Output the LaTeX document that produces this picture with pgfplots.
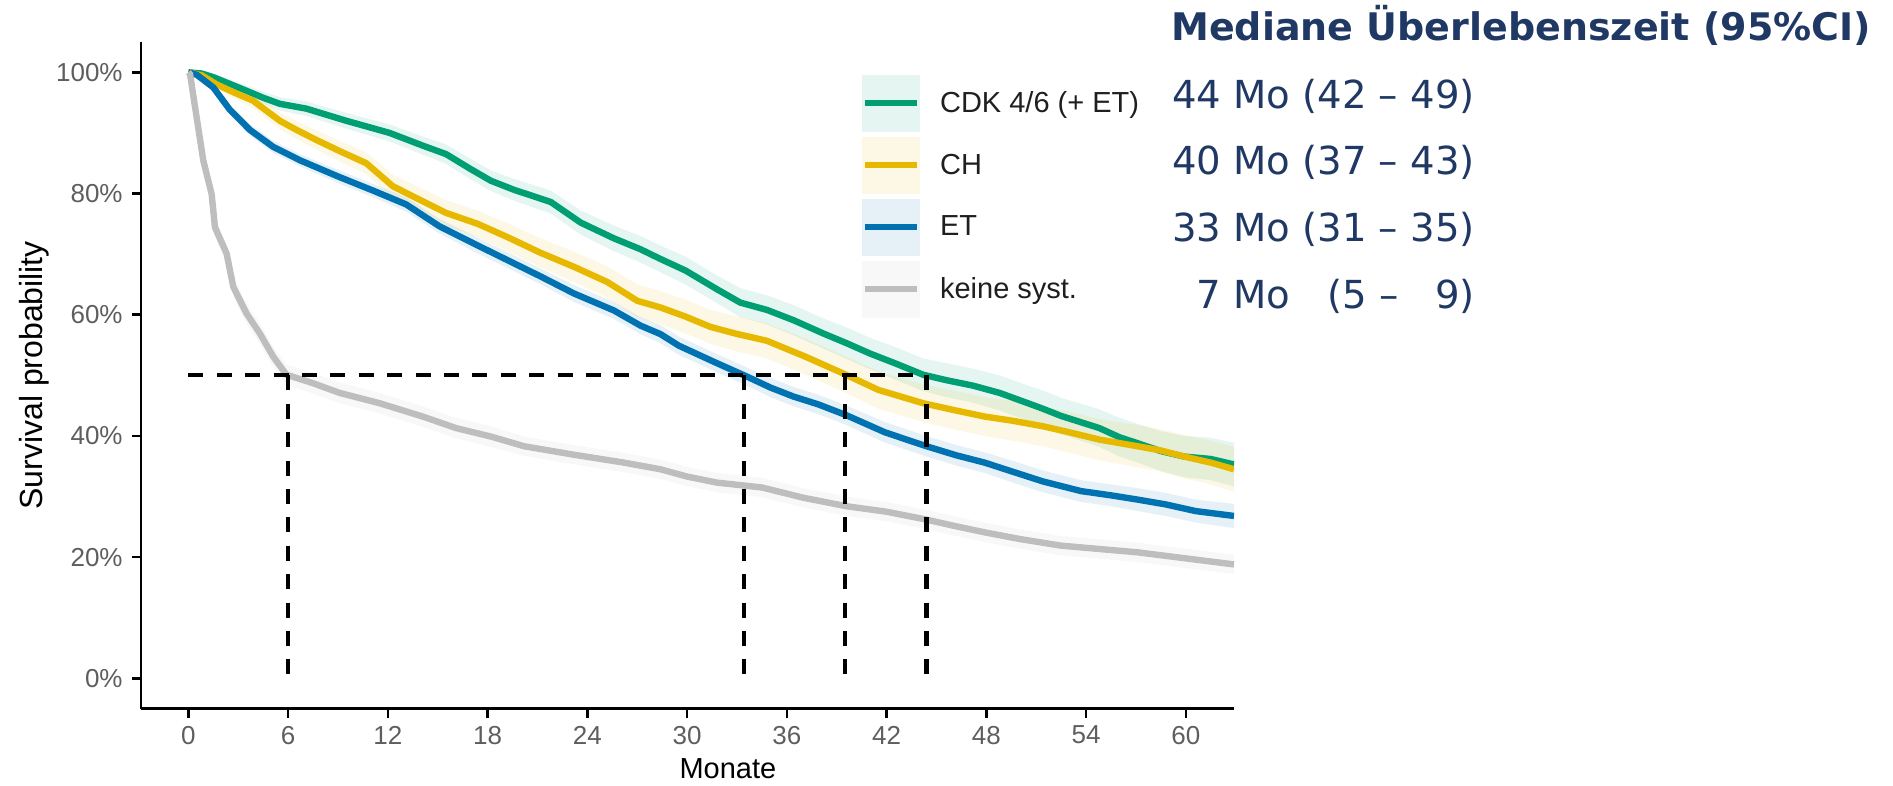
\documentclass[border=0pt]{standalone}
\usepackage{pgfplots}
\pgfplotsset{compat=1.18}
\usepackage{pgfplotstable}
\usepgfplotslibrary{fillbetween}
\usepackage{fontspec}
\setmainfont{Liberation Sans}
\newfontfamily\verd{DejaVu Sans}

\definecolor{cdk}{HTML}{009E73}
\definecolor{ch}{HTML}{E7B800}
\definecolor{et}{HTML}{0072B2}
\definecolor{keine}{HTML}{BEBEBE}
\definecolor{navy}{HTML}{1F3864}
\definecolor{tickgrey}{HTML}{5E5E5E}

% Kaplan-Meier estimates: t (months), s (survival in %), h (half width of 95% CI in %)
\pgfplotstableread{
t s h
0 100 0
0.8 99.8 0.3
1.5 99.2 0.5
3.1 97.4 0.8
4.5 95.8 1.0
5.5 94.8 1.1
7.1 94.0 1.2
9.5 92.0 1.3
12.1 90.0 1.4
14.1 87.9 1.5
15.5 86.5 1.6
17.0 84.0 1.7
18.2 82.1 1.7
19.6 80.6 1.8
21.8 78.6 1.9
23.6 75.2 2.0
25.6 72.6 2.1
27.2 70.8 2.2
28.4 69.2 2.2
29.9 67.3 2.3
31.8 64.2 2.3
33.2 62.0 2.4
34.8 60.8 2.4
36.4 59.1 2.5
38.2 56.9 2.5
39.6 55.3 2.6
41.0 53.6 2.6
42.5 52.0 2.7
44.2 50.1 2.7
45.6 49.2 2.8
47.2 48.3 2.8
48.8 47.1 2.9
50.2 45.7 2.9
51.3 44.6 3.0
52.5 43.3 3.0
54.8 41.3 3.1
56.0 39.8 3.2
57.1 38.8 3.2
58.5 37.5 3.3
59.9 36.6 3.4
61.5 36.2 3.5
62.9 35.3 3.6
}\cdktab

\pgfplotstableread{
t s h
0 100 0
0.8 99.5 0.4
1.7 98.0 0.7
2.8 96.6 1.0
3.9 95.3 1.2
5.5 92.0 1.4
6.5 90.5 1.5
7.8 88.7 1.6
9.1 87.0 1.7
10.7 85.0 1.8
12.3 81.2 1.9
13.9 79.0 2.0
15.5 76.8 2.1
17.4 75.0 2.2
19.2 72.8 2.3
21.2 70.2 2.4
23.2 67.9 2.5
25.2 65.4 2.6
27.0 62.3 2.7
28.4 61.2 2.7
29.9 59.7 2.8
31.4 58.0 2.8
32.9 56.9 2.9
34.8 55.7 2.9
37.1 53.1 3.0
39.4 50.3 3.0
41.5 47.6 3.1
44.2 45.4 3.1
46.0 44.3 3.2
47.9 43.2 3.2
49.6 42.5 3.3
51.4 41.6 3.3
53.0 40.6 3.4
54.8 39.4 3.4
57.1 38.3 3.5
58.5 37.6 3.5
59.9 36.6 3.6
61.5 35.6 3.6
62.9 34.5 3.7
}\chtab

\pgfplotstableread{
t s h
0 100 0
0.5 99.6 0.3
1.5 97.5 0.6
2.5 93.8 0.8
3.7 90.5 0.9
5.1 87.7 1.0
6.7 85.5 1.0
9.1 82.7 1.1
11.1 80.5 1.1
13.1 78.2 1.2
15.1 74.6 1.2
17.2 71.7 1.3
19.2 69.0 1.3
21.2 66.3 1.3
23.2 63.5 1.4
25.6 60.7 1.4
27.2 58.2 1.4
28.4 56.8 1.5
29.5 54.9 1.5
31.8 52.0 1.5
33.6 49.8 1.5
35.0 48.0 1.6
36.4 46.5 1.6
37.9 45.2 1.6
39.6 43.4 1.6
41.9 40.6 1.7
44.4 38.3 1.7
46.2 36.8 1.7
47.9 35.6 1.7
49.7 34.0 1.8
51.4 32.5 1.8
53.7 30.9 1.8
55.5 30.2 1.8
57.1 29.5 1.9
58.8 28.7 1.9
60.6 27.6 1.9
62.9 26.8 2.0
}\ettab

\pgfplotstableread{
t s h
0 100 0
0.1 99.7 0.3
0.5 92.5 1.0
0.9 85.4 1.3
1.4 79.9 1.5
1.6 74.4 1.6
2.3 70.1 1.6
2.7 64.6 1.7
3.5 60.2 1.7
4.3 56.9 1.7
5.1 53.1 1.7
5.9 50.1 1.7
7.5 48.7 1.7
9.1 47.1 1.7
11.5 45.4 1.7
14.1 43.2 1.7
16.1 41.3 1.7
18.2 39.9 1.7
20.2 38.3 1.6
23.2 36.9 1.6
26.2 35.6 1.6
28.4 34.5 1.6
30.0 33.3 1.6
31.8 32.3 1.6
34.5 31.5 1.6
37.0 29.8 1.6
39.6 28.4 1.6
42.0 27.5 1.6
44.4 26.2 1.6
46.0 25.2 1.6
47.9 24.1 1.6
50.0 23.0 1.6
52.5 21.9 1.6
55.0 21.3 1.6
57.1 20.8 1.6
60.0 19.8 1.6
62.9 18.8 1.6
}\keinetab

% confidence band of one stratum
\newcommand{\band}[2]{%
  \addplot[name path=#2up, draw=none, forget plot] table[x=t, y expr=\thisrow{s}+\thisrow{h}] {#1};
  \addplot[name path=#2lo, draw=none, forget plot] table[x=t, y expr=\thisrow{s}-\thisrow{h}] {#1};
  \addplot[fill=#2, fill opacity=0.1, draw=none, forget plot] fill between[of=#2up and #2lo];
}

% legend key: shaded CI box with the curve colour across it
\pgfplotsset{
  kmkey/.style={
    legend image code/.code={%
      \path[draw=none, fill=#1, fill opacity=0.1] (0pt,-14.25pt) rectangle (29pt,14.25pt);
      \draw[#1, line width=3pt, opacity=1] (1.5pt,0pt) -- (27.5pt,0pt);
    }%
  }
}

\begin{document}
\begin{tikzpicture}
\begin{axis}[
  at={(70.5pt,38.65pt)}, anchor=south west,
  scale only axis, width=546.5pt, height=333.35pt,
  xmin=-2.85, xmax=62.9, ymin=-5, ymax=105,
  axis x line*=bottom, axis y line*=left,
  axis line style={line width=1.4pt, black},
  xtick={0,6,...,60}, ytick={0,20,...,100},
  tick align=outside, major tick length=4.5pt,
  tick style={line width=1.3pt, black},
  /pgf/number format/assume math mode=true,
  yticklabel={\pgfmathprintnumber{\tick}\%},
  tick label style={font=\fontsize{13}{15}\selectfont, text=tickgrey},
  yticklabel style={inner sep=0pt, xshift=-4.5pt},
  xticklabel style={inner sep=0pt, yshift=-4pt},
  xlabel={Monate}, ylabel={Survival probability},
  label style={text=black},
  xlabel style={font=\fontsize{14.5}{16}\selectfont,
    at={(axis description cs:0.537,-0.0905)}, anchor=center},
  ylabel style={font=\fontsize{16}{18}\selectfont,
    at={(axis description cs:-0.098,0.5)}, anchor=center},
  legend cell align=left,
  legend style={at={(axis description cs:0.6597,0.9505)}, anchor=north west,
    draw=none, fill=none, inner sep=0pt, outer sep=0pt,
    row sep=2.5pt, column sep=10pt,
    nodes={inner sep=0pt},
    font=\fontsize{14.5}{16}\selectfont, text=black!88},
]
\band{\cdktab}{cdk}
\band{\chtab}{ch}
\band{\ettab}{et}
\band{\keinetab}{keine}

\addplot[cdk, line width=3.2pt, kmkey=cdk] table[x=t, y=s] {\cdktab};
\addlegendentry{CDK 4/6 (+ ET)}
\addplot[ch, line width=3.2pt, kmkey=ch] table[x=t, y=s] {\chtab};
\addlegendentry{CH}
\addplot[et, line width=3.2pt, kmkey=et] table[x=t, y=s] {\ettab};
\addlegendentry{ET}
\addplot[keine, line width=3.2pt, kmkey=keine] table[x=t, y=s] {\keinetab};
\addlegendentry{keine syst.}

% median survival markers
\addplot[black, line width=2.1pt, dash pattern=on 7.5pt off 6.7pt, forget plot]
  coordinates {(0,50) (44.4,50)};
\addplot[black, line width=2.1pt, dash pattern=on 7.5pt off 6.7pt, forget plot]
  coordinates {(6,50) (6,0)};
\addplot[black, line width=2.1pt, dash pattern=on 7.5pt off 6.7pt, forget plot]
  coordinates {(33.4,50) (33.4,0)};
\addplot[black, line width=2.1pt, dash pattern=on 7.5pt off 6.7pt, forget plot]
  coordinates {(39.5,50) (39.5,0)};
\addplot[black, line width=2.1pt, dash pattern=on 7.5pt off 6.7pt, forget plot]
  coordinates {(44.4,50) (44.4,0)};
\end{axis}

\node[anchor=base west, inner sep=0pt, text=navy,
  font=\verd\bfseries\fontsize{19}{22}\selectfont] at (585.5pt,372.5pt)
  {Mediane Überlebenszeit (95\%CI)};
\begin{scope}[every node/.style={anchor=base west, inner sep=0pt, text=navy,
  font=\verd\fontsize{19.3}{22}\selectfont}]
\node at (585.8pt,338.85pt) {44 Mo (42 – 49)};
\node at (585.8pt,305.5pt) {40 Mo (37 – 43)};
\node at (585.8pt,272.15pt) {33 Mo (31 – 35)};
\node at (585.8pt,238.85pt) {\phantom{4}7 Mo\hphantom{4} (5 – \phantom{4}9)};
\end{scope}
% page frame
\path (0,0) rectangle (946.5pt,393pt);
\end{tikzpicture}
\end{document}
